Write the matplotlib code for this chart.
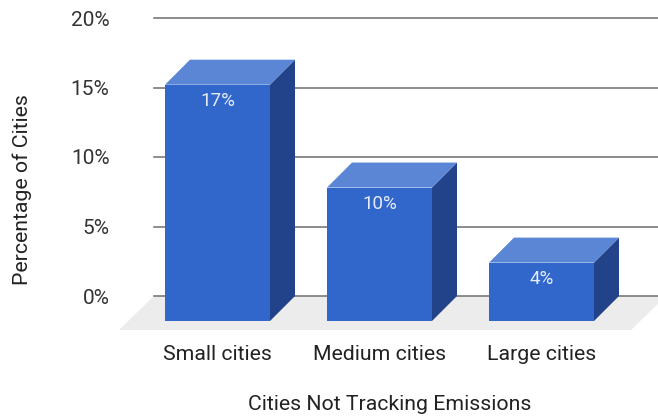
import matplotlib
matplotlib.use("Agg")
import matplotlib.pyplot as plt
from matplotlib.patches import Polygon, Rectangle

categories = ["Small cities", "Medium cities", "Large cities"]
values = [17.0, 9.6, 4.2]
yticks = [0, 5, 10, 15, 20]
ytick_labels = ["0%", "5%", "10%", "15%", "20%"]
xlabel = "Cities Not Tracking Emissions"
ylabel = "Percentage of Cities"

plt.rcParams['font.family'] = ['Roboto', 'DejaVu Sans']

W, H = 658, 417
fig = plt.figure(figsize=(W / 100, H / 100), dpi=100)
# axes: left at px 154, right at figure edge, 0% at y=296, 20% at y=18
ax = fig.add_axes([154 / W, (H - 296) / H, (W - 154) / W, 278 / H])
px_per_cat = 162.0
px_per_pct = 278 / 20
xa = -(217.5 - 154) / px_per_cat
ax.set_xlim(xa, xa + (W - 154) / px_per_cat)
ax.set_ylim(0, 20)

front = "#3166cb"
top = "#5b86d6"
side = "#22428a"

dx = 25 / px_per_cat
dy = 25 / px_per_pct
bw = 105 / px_per_cat
fdx = 35 / px_per_cat
fdy = 34 / px_per_pct

# floor
x0, x1 = ax.get_xlim()
floor = Polygon([(x0, 0), (x1 + 0.05, 0), (x1 + 0.05 - fdx, -fdy), (x0 - fdx, -fdy)],
                closed=True, facecolor="#ececec", edgecolor="none", zorder=1, clip_on=False)
ax.add_patch(floor)

for yt in yticks:
    ax.axhline(yt, color="#6e6e6e", lw=1.1, zorder=2, clip_on=False)

for i, v in enumerate(values):
    l = i - bw / 2
    r = i + bw / 2
    ax.add_patch(Polygon([(r, -dy), (r, v - dy), (r + dx, v), (r + dx, 0)], closed=True,
                         facecolor=side, edgecolor="none", zorder=3, clip_on=False))
    ax.add_patch(Polygon([(l, v - dy), (l + dx, v), (r + dx, v), (r, v - dy)], closed=True,
                         facecolor=top, edgecolor="none", zorder=3, clip_on=False))
    ax.add_patch(Rectangle((l, -dy), bw, v, facecolor=front, edgecolor="none",
                           zorder=4, clip_on=False))
    ax.text(i, v - dy - 16 / px_per_pct, f"{round(v):.0f}%", ha="center", va="center",
            color="#e6ecf8", fontsize=13.5, zorder=5)

for s in ax.spines.values():
    s.set_visible(False)
ax.set_yticks(yticks)
ax.set_yticklabels(ytick_labels)
ax.set_xticks(range(len(categories)))
ax.set_xticklabels(categories)
ax.tick_params(axis="y", length=0, pad=32, labelsize=15, labelcolor="#333333")
ax.tick_params(axis="x", length=0, pad=35, labelsize=15.3, labelcolor="#222222")

fig.text(390 / W, 1 - 404 / H, xlabel, ha="center", va="center", fontsize=15.3, color="#222222")
fig.text(22 / W, 1 - 190 / H, ylabel, ha="center", va="center", rotation=90,
         fontsize=15.3, color="#222222")

fig.savefig("out.png", dpi=100)
